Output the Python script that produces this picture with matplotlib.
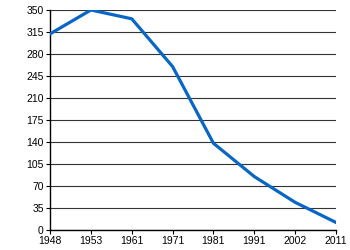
import matplotlib
matplotlib.use('Agg')
import matplotlib.pyplot as plt

years = ['1948', '1953', '1961', '1971', '1981', '1991', '2002', '2011']
values = [312, 350, 336, 260, 138, 85, 44, 12]
yticks = [0, 35, 70, 105, 140, 175, 210, 245, 280, 315, 350]

plt.rcParams['font.family'] = ['Liberation Sans', 'DejaVu Sans']

fig = plt.figure(figsize=(3.5, 2.5), dpi=100)
ax = fig.add_axes([0.143, 0.08, 0.817, 0.88])

x = list(range(len(years)))
ax.plot(x, values, color='#0866c6', linewidth=2.3, solid_joinstyle='round', zorder=3)

ax.set_xlim(0, len(years) - 1)
ax.set_ylim(0, 350)
ax.set_xticks(x)
ax.set_xticklabels(years)
ax.set_yticks(yticks)
ax.yaxis.grid(True, color='#333333', linewidth=0.8)
ax.set_axisbelow(True)
for s in ['top', 'right']:
    ax.spines[s].set_visible(False)
ax.spines['left'].set_linewidth(1.0)
ax.spines['bottom'].set_linewidth(1.0)
ax.tick_params(axis='both', labelsize=7.5, length=3, width=0.8, pad=1.5, colors='black')

fig.savefig('out.png', dpi=100)
